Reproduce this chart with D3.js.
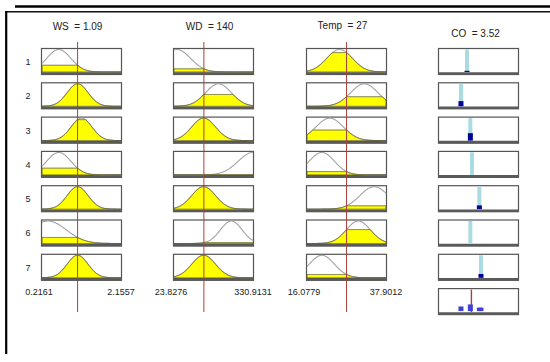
<!DOCTYPE html>
<html>
<head>
<meta charset="utf-8">
<script src="https://cdn.jsdelivr.net/npm/d3@7"></script>
<style>
  html, body { margin: 0; padding: 0; background: #fff; }
  text { font-family: "Liberation Sans", Arial, sans-serif; fill: #222; white-space: pre; }
</style>
</head>
<body>
<svg id="viewer" width="550" height="362"></svg>
<script>
// rule numbers and input values
const ruleLabels = ["1", "2", "3", "4", "5", "6", "7"]
const inputNames = ["WS", "WD", "Temp"]
const inputValues = [1.09, 140, 27]
const inputRanges = [[0.2161, 2.1557], [23.8276, 330.9131], [16.0779, 37.9012]]
const rangeLabels = [["0.2161", "2.1557"], ["23.8276", "330.9131"], ["16.0779", "37.9012"]]

// gaussian membership functions used by each rule (center, sigma)
const wsCenter = [0.628, 1.09, 1.186, 0.628, 1.09, 0.362, 1.09]
const wsSigma = [0.298, 0.255, 0.255, 0.298, 0.255, 0.449, 0.255]
const wdCenter = [35.3, 196.6, 139, 330.9, 139, 246.5, 139]
const wdSigma = [53, 49.9, 46, 57.6, 46, 42.2, 46]
const tempCenter = [25.08, 31.9, 22.35, 20.17, 34.63, 30.26, 20.17]
const tempSigma = [3.55, 3.76, 3.79, 3.49, 3.93, 3.33, 3.49]

// sugeno output
const coName = "CO"
const coValue = 3.52
const coRange = [0, 8.43]
const coOutput = [3.06, 2.42, 3.41, 3.58, 4.36, 3.41, 4.53]
const ruleWeight = [0.05, 0.23, 0.33, 0, 0.17, 0, 0.17]

const centers = [wsCenter, wdCenter, tempCenter]
const sigmas = [wsSigma, wdSigma, tempSigma]

const colLeft = [41, 173, 306, 438]
const boxW = 81
const redColor = "#a8403c"

const svg = d3.select("#viewer")

// window frame
svg.append("line").attr("x1", 15).attr("x2", 550).attr("y1", 6.5).attr("y2", 6.5)
    .attr("stroke", "#000").attr("stroke-width", 2.5)
svg.append("line").attr("x1", 5).attr("x2", 550).attr("y1", 11.8).attr("y2", 11.8)
    .attr("stroke", "#111").attr("stroke-width", 1.6)
svg.append("line").attr("x1", 6.2).attr("x2", 6.2).attr("y1", 11).attr("y2", 354)
    .attr("stroke", "#000").attr("stroke-width", 2.2)

// rows: 7 rules + aggregate
const rowScale = d3.scaleBand()
    .domain([...ruleLabels, "agg"])
    .range([48, 315.1])
    .paddingInner(0.2128)
const boxH = rowScale.bandwidth()

const gauss = (x, c, s) => Math.exp(-((x - c) ** 2) / (2 * s * s))

const drawBox = (g, x, y) => {
    g.append("rect")
        .attr("x", x + 0.5).attr("y", y + 0.5)
        .attr("width", boxW - 1).attr("height", boxH - 1)
        .attr("fill", "#fff").attr("stroke", "#555").attr("stroke-width", 1.2)
    g.append("line")
        .attr("x1", x).attr("x2", x + boxW)
        .attr("y1", y + boxH - 1.5).attr("y2", y + boxH - 1.5)
        .attr("stroke", "#5a5a5a").attr("stroke-width", 2.6)
}

// row labels
svg.selectAll("text.rule")
    .data(ruleLabels)
    .join("text")
    .attr("class", "rule")
    .attr("x", 28)
    .attr("y", d => rowScale(d) + boxH / 2 + 3.5)
    .attr("text-anchor", "middle")
    .attr("font-size", 9)
    .text(d => d)

// input columns
inputNames.forEach((name, k) => {
    const [lo, hi] = inputRanges[k]
    const x = d3.scaleLinear().domain([lo, hi]).range([colLeft[k] + 1, colLeft[k] + boxW - 1])
    const xs = d3.range(0, 201).map(i => lo + (hi - lo) * i / 200)
    const v = inputValues[k]

    svg.append("text")
        .attr("x", colLeft[k] + boxW / 2 - 4)
        .attr("y", k === 2 ? 29 : 30)
        .attr("text-anchor", "middle")
        .attr("font-size", 10)
        .text(`${name}  = ${v}`)

    ruleLabels.forEach((r, i) => {
        const top = rowScale(r)
        const g = svg.append("g")
        drawBox(g, colLeft[k], top)
        const y = d3.scaleLinear().domain([0, 1]).range([top + boxH - 3, top + 1.5])
        const c = centers[k][i], s = sigmas[k][i]
        const level = gauss(v, c, s)

        const area = d3.area()
            .x(d => x(d))
            .y0(y(0))
            .y1(d => y(Math.min(gauss(d, c, s), level)))
        const line = d3.line()
            .x(d => x(d))
            .y(d => y(gauss(d, c, s)))

        g.append("path").datum(xs)
            .attr("d", line)
            .attr("fill", "none").attr("stroke", "#a4a4a4").attr("stroke-width", 1.1)
        g.append("path").datum(xs)
            .attr("d", area)
            .attr("fill", "#ffff00").attr("stroke", "#5e5e38").attr("stroke-width", 0.9)
    })

    // range labels
    svg.append("text")
        .attr("x", colLeft[k] - 2).attr("y", 295)
        .attr("text-anchor", "middle").attr("font-size", 9)
        .text(rangeLabels[k][0])
    svg.append("text")
        .attr("x", colLeft[k] + boxW - 1).attr("y", 295)
        .attr("text-anchor", "middle").attr("font-size", 9)
        .text(rangeLabels[k][1])

    // current input value
    svg.append("line")
        .attr("x1", x(v)).attr("x2", x(v))
        .attr("y1", 42).attr("y2", 312)
        .attr("stroke", redColor).attr("stroke-width", 1)
})

// output column
const xo = d3.scaleLinear().domain(coRange).range([colLeft[3], colLeft[3] + boxW - 1])

svg.append("text")
    .attr("x", colLeft[3] + boxW / 2 - 3).attr("y", 37)
    .attr("text-anchor", "middle").attr("font-size", 10)
    .text(`${coName}  = ${coValue}`)

ruleLabels.forEach((r, i) => {
    const top = rowScale(r)
    const g = svg.append("g")
    drawBox(g, colLeft[3], top)
    const y = d3.scaleLinear().domain([0, 1]).range([top + boxH - 3, top + 1.5])
    g.append("rect")
        .attr("x", xo(coOutput[i]) - 2).attr("y", y(1))
        .attr("width", 4).attr("height", y(0) - y(1))
        .attr("fill", "#a9dbe0")
    const h = Math.max(ruleWeight[i] > 0 ? 1.2 : 0, y(0) - y(ruleWeight[i]))
    g.append("rect")
        .attr("x", xo(coOutput[i]) - 2.5).attr("y", y(0) - h)
        .attr("width", 5).attr("height", h)
        .attr("fill", "#00009a")
})

// aggregate row
const aggTop = rowScale("agg")
const aggG = svg.append("g")
drawBox(aggG, colLeft[3], aggTop)
const ya = d3.scaleLinear().domain([0, 1]).range([aggTop + boxH - 3, aggTop + 1.5])
aggG.append("line")
    .attr("x1", xo(coValue)).attr("x2", xo(coValue))
    .attr("y1", ya(1)).attr("y2", ya(0))
    .attr("stroke", redColor).attr("stroke-width", 1.4)
aggG.selectAll("rect.stem")
    .data(coOutput.map((o, i) => ({o, w: ruleWeight[i]})).filter(d => d.w > 0.1))
    .join("rect")
    .attr("class", "stem")
    .attr("x", d => xo(d.o) - 2.5)
    .attr("y", d => ya(0) - Math.max(3, (ya(0) - ya(d.w)) * 0.9) - 1)
    .attr("width", 5)
    .attr("height", d => Math.max(3, (ya(0) - ya(d.w)) * 0.9))
    .attr("fill", "#4040d8")
</script>
</body>
</html>
